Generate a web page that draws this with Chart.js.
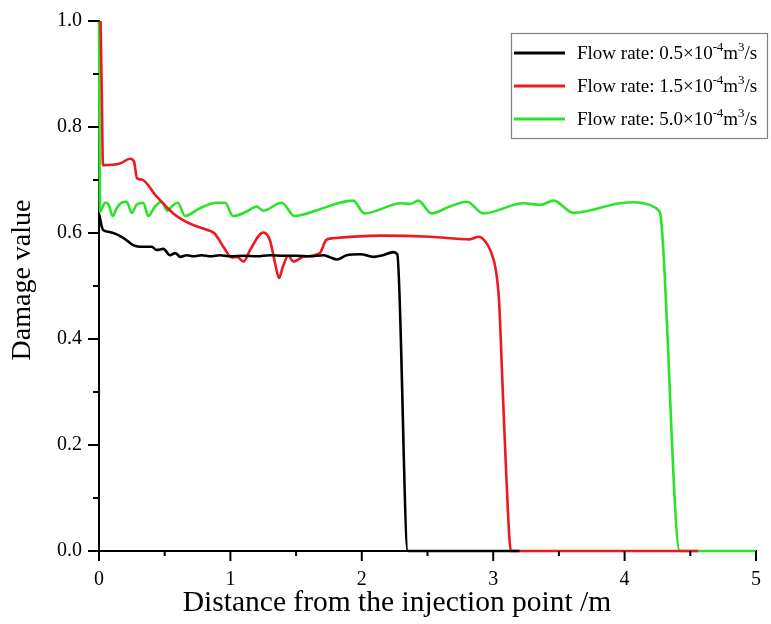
<!DOCTYPE html>
<html>
<head>
<meta charset="utf-8">
<script src="https://cdn.jsdelivr.net/npm/chart.js@4"></script>
<style>
  html, body { margin: 0; padding: 0; background: #fff; }
  canvas { display: block; }
</style>
</head>
<body>
<canvas id="chart" width="771" height="624"></canvas>
<script>
// Damage value along the fracture for three injection flow rates
const seriesLabels = [
  'Flow rate: 0.5×10⁻⁴m³/s',
  'Flow rate: 1.5×10⁻⁴m³/s',
  'Flow rate: 5.0×10⁻⁴m³/s'
];
const seriesColors = ['#000000', '#ec1a1e', '#2ae42a'];

const lowX = [0, 0.03, 0.08, 0.185, 0.26, 0.31, 0.40, 0.44, 0.49, 0.54, 0.58, 0.62, 0.667, 0.72, 0.78, 0.85, 0.92, 1.0, 1.1, 1.2, 1.3, 1.4, 1.5, 1.6, 1.71, 1.76, 1.81, 1.885, 1.99, 2.09, 2.16, 2.24, 2.27, 2.35, 3.2];
const lowY = [0.636, 0.606, 0.602, 0.591, 0.577, 0.574, 0.574, 0.568, 0.570, 0.558, 0.562, 0.555, 0.558, 0.556, 0.558, 0.556, 0.558, 0.556, 0.557, 0.556, 0.558, 0.557, 0.557, 0.556, 0.558, 0.554, 0.550, 0.558, 0.560, 0.555, 0.558, 0.564, 0.560, 0, 0];

const midX = [0.012, 0.022, 0.03, 0.16, 0.236, 0.266, 0.29, 0.325, 0.438, 0.565, 0.69, 0.82, 0.88, 0.946, 1.01, 1.05, 1.10, 1.15, 1.25, 1.30, 1.34, 1.37, 1.40, 1.44, 1.48, 1.555, 1.68, 1.73, 1.78, 2.14, 2.52, 2.82, 2.89, 2.94, 2.98, 3.02, 3.045, 3.07, 3.1, 3.135, 4.56];
const midY = [1.0, 0.85, 0.728, 0.731, 0.740, 0.735, 0.703, 0.701, 0.669, 0.637, 0.618, 0.606, 0.599, 0.574, 0.554, 0.555, 0.546, 0.568, 0.601, 0.587, 0.543, 0.515, 0.537, 0.557, 0.546, 0.555, 0.562, 0.587, 0.590, 0.595, 0.593, 0.588, 0.593, 0.584, 0.566, 0.530, 0.470, 0.320, 0.140, 0, 0];

const highX = [0, 0.008, 0.046, 0.07, 0.104, 0.135, 0.17, 0.21, 0.25, 0.285, 0.337, 0.375, 0.426, 0.477, 0.52, 0.553, 0.60, 0.655, 0.77, 0.895, 0.96, 1.02, 1.12, 1.20, 1.25, 1.39, 1.49, 1.66, 1.82, 1.935, 2.02, 2.30, 2.37, 2.43, 2.53, 2.67, 2.80, 2.925, 3.23, 3.36, 3.46, 3.61, 3.965, 4.08, 4.19, 4.256, 4.275, 4.42, 5.0];
const highY = [1.0, 0.64, 0.657, 0.655, 0.632, 0.647, 0.657, 0.659, 0.638, 0.653, 0.657, 0.632, 0.650, 0.659, 0.642, 0.650, 0.657, 0.632, 0.647, 0.657, 0.657, 0.632, 0.640, 0.650, 0.642, 0.657, 0.632, 0.643, 0.656, 0.661, 0.637, 0.656, 0.655, 0.661, 0.637, 0.650, 0.659, 0.637, 0.656, 0.653, 0.661, 0.638, 0.656, 0.658, 0.653, 0.643, 0.631, 0, 0];

const xTickLabels = ['0', '1', '2', '3', '4', '5'];
const yTickLabels = ['0.0', '0.2', '0.4', '0.6', '0.8', '1.0'];
const xTitle = 'Distance from the injection point /m';
const yTitle = 'Damage value';

const serif = "'Liberation Serif', 'Times New Roman', serif";

function points(xs, ys) {
  return xs.map((x, i) => ({ x: x, y: ys[i] }));
}

const allX = [lowX, midX, highX];
const allY = [lowY, midY, highY];

const datasets = seriesLabels.map((label, i) => ({
  label: label,
  data: points(allX[i], allY[i]),
  borderColor: seriesColors[i],
  backgroundColor: seriesColors[i],
  borderWidth: 2.6,
  pointRadius: 0,
  fill: false,
  cubicInterpolationMode: 'monotone',
  clip: false
}));

// Outward major / minor tick marks and the two axis titles
const axisDecor = {
  id: 'axisDecor',
  afterDraw(chart) {
    const ctx = chart.ctx;
    const xs = chart.scales.x, ys = chart.scales.y;
    ctx.save();
    ctx.strokeStyle = '#000';
    ctx.lineWidth = 2;
    xs.ticks.forEach(t => {
      const major = Math.abs(t.value - Math.round(t.value)) < 1e-6;
      const px = xs.getPixelForValue(t.value);
      const len = major ? 10 : 5;
      ctx.beginPath();
      ctx.moveTo(px, xs.top);
      ctx.lineTo(px, xs.top + len);
      ctx.stroke();
    });
    ys.ticks.forEach(t => {
      const major = Math.round(t.value * 10) % 2 === 0;
      const py = ys.getPixelForValue(t.value);
      const len = major ? 11 : 6;
      ctx.beginPath();
      ctx.moveTo(ys.right, py);
      ctx.lineTo(ys.right - len, py);
      ctx.stroke();
    });

    ctx.fillStyle = '#000';
    ctx.textAlign = 'center';
    ctx.textBaseline = 'middle';
    ctx.font = '29.5px ' + serif;
    ctx.fillText(xTitle, 397, 603);
    ctx.translate(23, 280);
    ctx.rotate(-Math.PI / 2);
    ctx.font = '28px ' + serif;
    ctx.fillText(yTitle, 0, 0);
    ctx.restore();
  }
};

// Draw a label, raising Unicode superscript characters as small text
const supMap = { '⁻': '-', '⁴': '4', '³': '3', '²': '2', '¹': '1', '⁰': '0', '⁵': '5' };
function drawRichLabel(ctx, text, x, y, size) {
  let cx = x;
  let run = '';
  const flush = () => {
    if (!run) return;
    ctx.font = size + 'px ' + serif;
    ctx.fillText(run, cx, y);
    cx += ctx.measureText(run).width;
    run = '';
  };
  for (const ch of text) {
    if (supMap[ch] !== undefined) {
      flush();
      const s = supMap[ch];
      ctx.font = Math.round(size * 0.68) + 'px ' + serif;
      ctx.fillText(s, cx, y - size * 0.36);
      cx += ctx.measureText(s).width * (s === '-' ? 0.9 : 1);
    } else {
      run += ch;
    }
  }
  flush();
}

// Boxed legend in the upper right of the plot
const boxLegend = {
  id: 'boxLegend',
  afterDraw(chart) {
    const ctx = chart.ctx;
    const area = chart.chartArea;
    const left = area.right - 245, top = area.top + 12;
    const w = 256, h = 105;
    ctx.save();
    ctx.fillStyle = '#fff';
    ctx.fillRect(left, top, w, h);
    ctx.strokeStyle = '#808080';
    ctx.lineWidth = 1.2;
    ctx.strokeRect(left + 0.5, top + 0.5, w, h);
    ctx.textBaseline = 'middle';
    ctx.textAlign = 'left';
    chart.data.datasets.forEach((ds, i) => {
      const cy = top + 20 + i * 33;
      ctx.strokeStyle = ds.borderColor;
      ctx.lineWidth = 3;
      ctx.beginPath();
      ctx.moveTo(left + 3, cy);
      ctx.lineTo(left + 54, cy);
      ctx.stroke();
      ctx.fillStyle = '#000';
      drawRichLabel(ctx, ds.label, left + 66, cy + 1, 19);
    });
    ctx.restore();
  }
};

new Chart(document.getElementById('chart'), {
  type: 'line',
  data: { datasets: datasets },
  options: {
    responsive: false,
    animation: false,
    layout: { padding: { left: 0, top: 21, right: 15, bottom: 0 } },
    plugins: {
      legend: { display: false },
      tooltip: { enabled: false }
    },
    scales: {
      x: {
        type: 'linear',
        min: 0,
        max: 5,
        afterFit(scale) {
          scale.height = 73;
          scale.paddingLeft = 0;
          scale.paddingRight = 0;
        },
        ticks: {
          stepSize: 0.5,
          padding: 17,
          color: '#000',
          font: { family: serif, size: 20 },
          maxRotation: 0,
          autoSkip: false,
          callback(v) {
            const k = Math.round(v);
            return Math.abs(v - k) < 1e-6 ? xTickLabels[k] : '';
          }
        },
        grid: { display: true, drawOnChartArea: false, drawTicks: false },
        border: { display: true, color: '#000', width: 2 },
        title: { display: false }
      },
      y: {
        type: 'linear',
        min: 0,
        max: 1,
        afterFit(scale) {
          scale.width = 99;
          scale.paddingTop = 0;
          scale.paddingBottom = 0;
        },
        ticks: {
          stepSize: 0.1,
          padding: 17,
          color: '#000',
          font: { family: serif, size: 20 },
          autoSkip: false,
          callback(v) {
            const k = Math.round(v * 10);
            return k % 2 === 0 ? yTickLabels[k / 2] : '';
          }
        },
        grid: { display: true, drawOnChartArea: false, drawTicks: false },
        border: { display: true, color: '#000', width: 2 },
        title: { display: false }
      }
    }
  },
  plugins: [axisDecor, boxLegend]
});
</script>
</body>
</html>
